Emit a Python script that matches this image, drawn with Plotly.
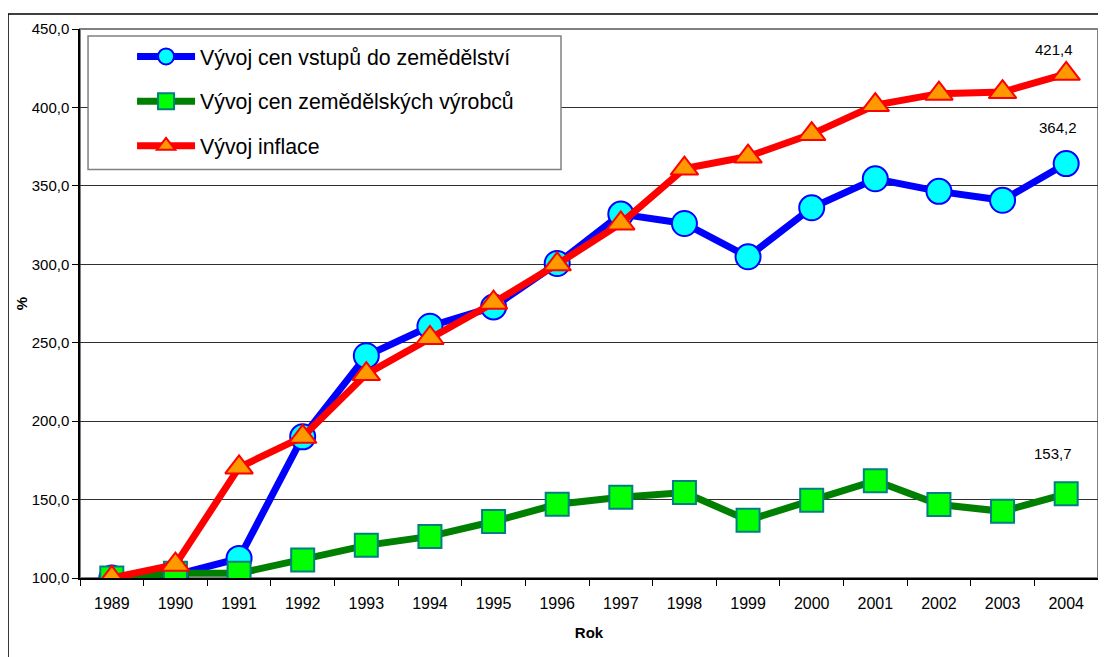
import plotly.graph_objects as go

years = list(range(1989, 2005))
year_labels = [str(y) for y in years]
vstupy = [100.0, 102.0, 112.5, 190.0, 241.7, 260.5, 272.8, 300.5, 332.0, 326.0, 304.8, 336.0, 354.5, 346.5, 340.8, 364.2]
vyrobci = [100.0, 103.0, 103.0, 111.5, 120.8, 126.5, 136.0, 147.0, 151.5, 154.5, 136.8, 149.5, 162.0, 146.8, 142.5, 153.7]
inflace = [100.0, 108.5, 170.5, 190.0, 230.0, 253.0, 275.5, 300.0, 326.0, 361.0, 368.7, 383.0, 401.5, 408.8, 409.8, 421.4]
y_ticks = [100, 150, 200, 250, 300, 350, 400, 450]

names = ["Vývoj cen vstupů do zemědělství", "Vývoj cen zemědělských výrobců", "Vývoj inflace"]

def fmt(v):
    return f"{v:.1f}".replace(".", ",")

FONT = "Liberation Sans, Arial, sans-serif"

fig = go.Figure()
fig.add_trace(go.Scatter(
    x=years, y=vstupy, name=names[0], mode="lines+markers", legendgroup="a",
    line=dict(color="#0000FF", width=7),
    marker=dict(symbol="circle", size=25, color="#00FFFF", line=dict(color="#0000FF", width=2)),
))
fig.add_trace(go.Scatter(
    x=years, y=vyrobci, name=names[1], mode="lines+markers", legendgroup="b",
    line=dict(color="#008000", width=7),
    marker=dict(symbol="square", size=23, color="#00FF00", line=dict(color="#008080", width=2)),
))
fig.add_trace(go.Scatter(
    x=years, y=inflace, name=names[2], mode="lines+markers", legendgroup="c",
    line=dict(color="#FF0000", width=7),
    marker=dict(symbol="triangle-up", size=24, color="#FF9900", line=dict(color="#FF0000", width=2)),
))

for series, yshift, xshift in [(inflace, 24, -12), (vstupy, 36, -8), (vyrobci, 40, -13)]:
    fig.add_annotation(x=years[-1], y=series[-1], xref="x", yref="y", text=fmt(series[-1]),
                       showarrow=False, yshift=yshift, xshift=xshift,
                       font=dict(family=FONT, size=15, color="#000000"))

fig.update_layout(
    width=1106, height=657,
    margin=dict(l=72, r=16, t=19, b=87),
    paper_bgcolor="white", plot_bgcolor="white",
    font=dict(family=FONT, size=15, color="#000000"),
    showlegend=True,
    legend=dict(
        x=0.0079, y=0.987, xanchor="left", yanchor="top",
        bgcolor="rgba(0,0,0,0)", borderwidth=0,
        font=dict(family=FONT, size=21.3, color="#000000"),
        traceorder="grouped", tracegroupgap=14, itemwidth=58, indentation=44,
    ),
    shapes=[
        dict(type="rect", xref="paper", yref="paper", x0=-0.0707, y0=-0.3, x1=1.05, y1=1.0272,
             line=dict(color="#000000", width=1.5), layer="below"),
        dict(type="rect", xref="paper", yref="paper", x0=0, y0=0, x1=1, y1=1,
             line=dict(color="#808080", width=2), layer="below"),
        dict(type="rect", xref="paper", yref="paper", x0=0.0079, y0=0.7441, x1=0.4725, y1=0.9873,
             line=dict(color="#808080", width=1.5), fillcolor="white", layer="above"),
    ],
)

fig.update_xaxes(
    range=[1988.5, 2004.5], tickvals=years, ticktext=year_labels, ticks="",
    ticklabelstandoff=10,
    minor=dict(tickvals=[y - 0.5 for y in years] + [2004.5], ticks="outside", ticklen=6,
               tickcolor="#000000", showgrid=False),
    showline=True, linecolor="#000000", linewidth=1.5, showgrid=False, zeroline=False,
    title=dict(text="<b>Rok</b>", font=dict(size=15), standoff=17),
    tickfont=dict(size=16),
)
fig.update_yaxes(
    range=[100, 450], tickvals=y_ticks, ticktext=[fmt(v) for v in y_ticks],
    ticks="outside", ticklen=6, tickcolor="#000000",
    showline=True, linecolor="#000000", linewidth=1.5,
    showgrid=True, gridcolor="#303030", gridwidth=1,
    title=dict(text="<b>%</b>", font=dict(size=15), standoff=0),
    tickfont=dict(size=15), zeroline=False,
)

fig.write_html("out.html")
